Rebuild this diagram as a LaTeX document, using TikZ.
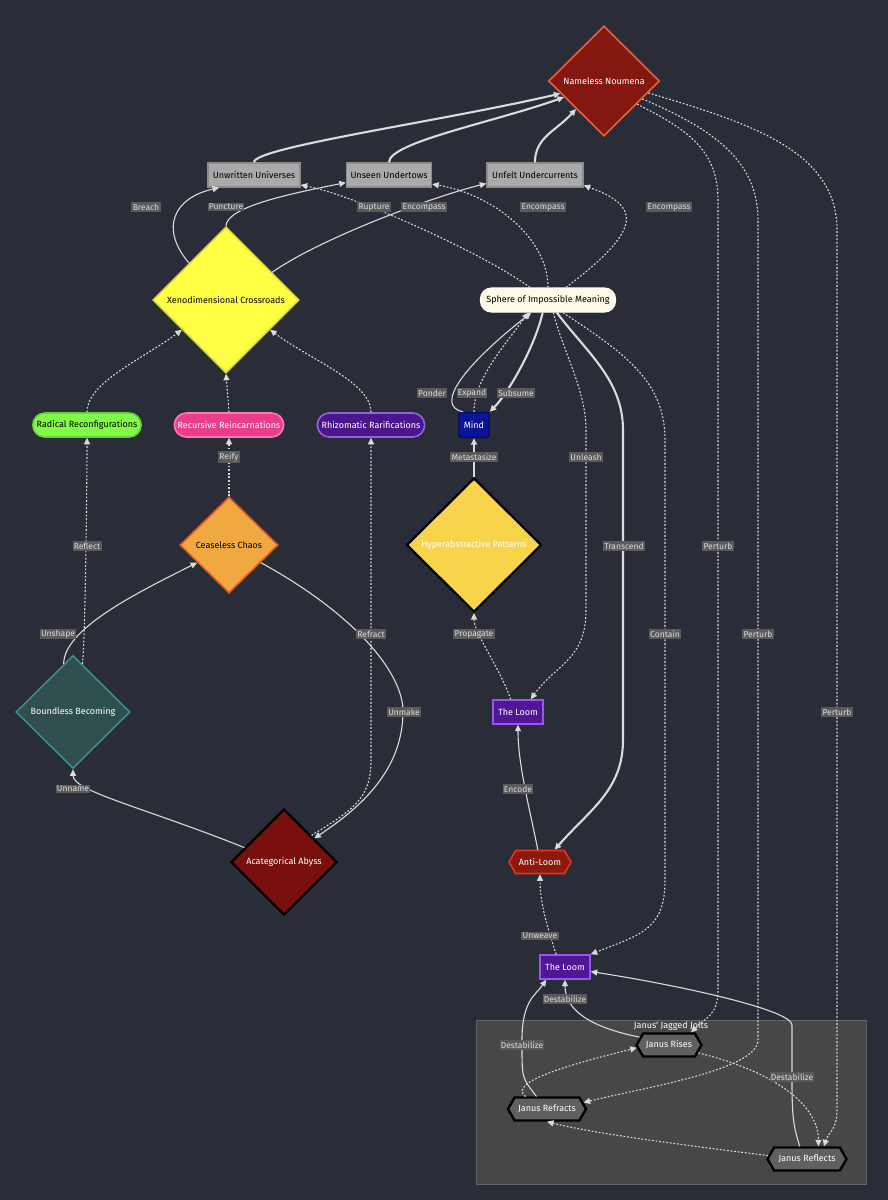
\documentclass[tikz,border=0pt]{standalone}
\usepackage{fontspec}
\setmainfont{Fira Sans}
\usetikzlibrary{shapes.geometric,shapes.misc,shapes.symbols,arrows.meta}

\definecolor{bgdark}{RGB}{42,45,56}
\definecolor{wire}{RGB}{218,218,218}
\definecolor{tagbg}{RGB}{90,90,90}
\definecolor{tagtxt}{RGB}{220,220,220}
\definecolor{noumred}{RGB}{132,24,16}
\definecolor{noumedge}{RGB}{232,96,64}
\definecolor{greybox}{RGB}{170,170,170}
\definecolor{greyedge}{RGB}{140,140,140}
\definecolor{xenoyellow}{RGB}{255,255,68}
\definecolor{xenoedge}{RGB}{230,214,60}
\definecolor{cream}{RGB}{255,250,232}
\definecolor{radgreen}{RGB}{130,250,70}
\definecolor{radedge}{RGB}{100,210,60}
\definecolor{recpink}{RGB}{232,62,140}
\definecolor{recedge}{RGB}{255,120,180}
\definecolor{rhizpurple}{RGB}{75,22,140}
\definecolor{rhizedge}{RGB}{140,100,220}
\definecolor{mindblue}{RGB}{10,20,150}
\definecolor{mindedge}{RGB}{0,10,110}
\definecolor{chaosorange}{RGB}{240,168,64}
\definecolor{chaosedge}{RGB}{232,92,32}
\definecolor{hypergold}{RGB}{248,212,74}
\definecolor{becomteal}{RGB}{47,79,79}
\definecolor{becomedge}{RGB}{60,140,140}
\definecolor{abyssred}{RGB}{122,16,14}
\definecolor{loompurple}{RGB}{80,22,150}
\definecolor{loomedge}{RGB}{150,90,230}
\definecolor{antired}{RGB}{140,24,14}
\definecolor{antiedge}{RGB}{230,50,30}
\definecolor{janusgrey}{RGB}{96,96,96}
\definecolor{clusterfill}{RGB}{71,71,71}
\definecolor{clusteredge}{RGB}{100,100,100}

\begin{document}
\begin{tikzpicture}[
            x=1pt, y=-1pt,
            every node/.style={font=\fontsize{9}{10.5}\selectfont},
            link/.style={draw=wire, line width=1.1pt, -{Triangle[length=6.5pt,width=6pt]}},
            boldlink/.style={link, line width=2.1pt},
            dotlink/.style={link, line width=1.1pt, dash pattern=on 1.8pt off 1.8pt},
            tag/.style={fill=tagbg, text=tagtxt, inner sep=1.3pt, font=\fontsize{8.5}{10}\selectfont},
            rhomb/.style={diamond, draw, line width=1.6pt, inner sep=0pt},
            plainbox/.style={rectangle, draw, line width=1.4pt, minimum height=24pt},
            pill/.style={rounded rectangle, draw, line width=1.6pt, minimum height=24pt},
            hexbox/.style={signal, signal to=east and west, signal pointer angle=120,
                draw, line width=1.6pt, minimum height=23pt, inner xsep=2pt},
        ] % mermaid dark theme, more or less
            \useasboundingbox[fill=bgdark] (0,0) rectangle (888,1200);

            % the janus box goes under everything
            \draw [fill=clusterfill, draw=clusteredge] (476,1020) rectangle (866,1184);
            \node [text=white] (jolts) at (671,1026) {Janus\textquotesingle{} Jagged Jolts};

            \node [rhomb, fill=noumred, draw=noumedge, text=white, minimum width=111pt, minimum height=110pt] (noumena) at (604,81) {Nameless Noumena};
            \node [plainbox, fill=greybox, draw=greyedge, minimum width=92pt] (unwritten) at (254,175) {Unwritten Universes};
            \node [plainbox, fill=greybox, draw=greyedge, minimum width=85pt] (unseen) at (389,175) {Unseen Undertows};
            \node [plainbox, fill=greybox, draw=greyedge, minimum width=96pt] (unfelt) at (535,175) {Unfelt Undercurrents};
            \node [rhomb, fill=xenoyellow, draw=xenoedge, minimum width=146pt, minimum height=146pt] (xeno) at (226,300) {Xenodimensional Crossroads};
            \node [rectangle, rounded corners=11pt, fill=cream, draw=white, line width=1.2pt, minimum width=135pt, minimum height=24pt] (sphere) at (548,300) {Sphere of Impossible Meaning};
            \node [pill, fill=radgreen, draw=radedge, minimum width=115pt] (radical) at (87,425) {Radical Reconfigurations};
            \node [pill, fill=recpink, draw=recedge, text=white, minimum width=116pt] (recursive) at (229,425) {Recursive Reincarnations};
            \node [pill, fill=rhizpurple, draw=rhizedge, text=white, minimum width=114pt] (rhizo) at (371,425) {Rhizomatic Rarifications};
            \node [rectangle, rounded corners=2pt, fill=mindblue, draw=mindedge, line width=1.4pt, text=white, minimum width=30pt, minimum height=25pt] (mind) at (474,425) {Mind};
            \node [rhomb, fill=chaosorange, draw=chaosedge, minimum width=98pt, minimum height=96pt] (chaos) at (229,545) {Ceaseless Chaos};
            \node [rhomb, fill=hypergold, draw=black, line width=2.2pt, text=white, minimum width=135pt, minimum height=134pt] (hyper) at (474,545) {Hyperabstractive Patterns};
            \node [rhomb, fill=becomteal, draw=becomedge, text=white, minimum width=114pt, minimum height=113pt] (becoming) at (73,712) {Boundless Becoming};
            \node [plainbox, fill=loompurple, draw=loomedge, text=white, minimum width=50pt] (loomA) at (518,712) {The Loom};
            \node [rhomb, fill=abyssred, draw=black, line width=2.2pt, text=white, minimum width=106pt, minimum height=106pt] (abyss) at (284,862) {Acategorical Abyss};
            \node [hexbox, fill=antired, draw=antiedge, text=white, minimum width=62pt] (antiloom) at (540,862) {Anti-Loom};
            \node [plainbox, fill=loompurple, draw=loomedge, text=white, minimum width=50pt] (loomB) at (565,967) {The Loom};
            \node [hexbox, fill=janusgrey, draw=black, line width=2.4pt, text=white, minimum width=65pt] (jrises) at (669,1045) {Janus Rises};
            \node [hexbox, fill=janusgrey, draw=black, line width=2.4pt, text=white, minimum width=78pt] (jrefracts) at (547,1109) {Janus Refracts};
            \node [hexbox, fill=janusgrey, draw=black, line width=2.4pt, text=white, minimum width=79pt] (jreflects) at (807,1159) {Janus Reflects};

            % up into the noumena
            \draw [boldlink] (unwritten.north) .. controls +(0,-15) and +(-120,28) .. (noumena.196);
            \draw [boldlink] (unseen.north) .. controls +(0,-20) and +(-70,25) .. (noumena.202);
            \draw [boldlink] (unfelt.north) .. controls +(0,-25) and +(-20,22) .. (noumena.225);

            % crossroads
            \draw [link] (xeno.135) .. controls +(-30,-35) and +(-45,10) .. (unwritten.200);
            \draw [link] (xeno.north) .. controls +(0,-20) and +(-50,10) .. (unseen.190);
            \draw [link] (xeno.31) .. controls +(50,-35) and +(-50,12) .. (unfelt.190);
            \draw [dotlink] (sphere.145) .. controls +(-40,-30) and +(60,12) .. (unwritten.-12);
            \draw [dotlink] (sphere.north) .. controls +(0,-50) and +(60,10) .. (unseen.-12);
            \draw [dotlink] (sphere.35) .. controls +(80,-60) and +(55,20) .. (unfelt.-12);
            \draw [dotlink] (radical.north) .. controls +(0,-30) and +(-40,30) .. (xeno.214);
            \draw [dotlink] (recursive.north) -- (xeno.south);
            \draw [dotlink] (rhizo.north) .. controls +(0,-30) and +(40,30) .. (xeno.-34);

            % mind and sphere
            \draw [link] (mind.130) .. controls +(-28,-6) and +(-70,55) .. (sphere.217);
            \draw [dotlink] (mind.north) .. controls +(0,-30) and +(-30,40) .. (sphere.213);
            \draw [boldlink] (sphere.247) .. controls +(-8,35) and +(18,-18) .. (mind.north east);
            \draw [boldlink] (hyper.north) -- (mind.south);
            \draw [dotlink] (sphere.-67) .. controls +(10,40) and +(0,-40) .. (586,430) -- (586,610) .. controls +(0,50) and +(25,-35) .. (loomA.45);
            \draw [boldlink] (sphere.-55) .. controls +(30,40) and +(0,-50) .. (623,430) -- (623,740) .. controls +(0,50) and +(35,-40) .. (antiloom.40);
            \draw [dotlink] (sphere.-40) .. controls +(60,40) and +(0,-60) .. (665,440) -- (665,880) .. controls +(0,50) and +(50,-20) .. (loomB.north east);

            % perturb x3
            \draw [dotlink] (noumena.-35) .. controls +(50,25) and +(0,-50) .. (718,200) -- (718,990) .. controls +(0,25) and +(15,-15) .. (jrises.30);
            \draw [dotlink] (noumena.-25) .. controls +(70,30) and +(0,-60) .. (758,220) -- (758,1040) .. controls +(0,30) and +(60,-15) .. (jrefracts.10);
            \draw [dotlink] (noumena.-15) .. controls +(100,30) and +(0,-80) .. (837,230) -- (837,1110) .. controls +(0,20) and +(5,-15) .. (jreflects.37);

            % chaos side
            \draw [dotlink] (chaos.north) -- (recursive.south);
            \draw [dotlink] (becoming.79) .. controls +(3,-20) and +(0,40) .. (radical.south);
            \draw [link] (becoming.101) .. controls +(0,-35) and +(-60,30) .. (chaos.209);
            \draw [link] (chaos.-29) .. controls +(100,55) and +(0,-35) .. (403,711) .. controls +(0,60) and +(45,-30) .. (abyss.38);
            \draw [dotlink] (abyss.44) .. controls +(40,-25) and +(0,40) .. (371,760) -- (rhizo.south);
            \draw [link] (abyss.160) .. controls +(-100,-40) and +(0,22) .. (becoming.south);

            % looms
            \draw [dotlink] (loomA.120) .. controls +(-10,-30) and +(0,20) .. (hyper.south);
            \draw [link] (antiloom.100) .. controls +(-8,-40) and +(0,40) .. (loomA.south);
            \draw [dotlink] (loomB.125) .. controls +(-8,-25) and +(0,30) .. (antiloom.south);

            % janus
            \draw [link] (jrises.165) .. controls +(-50,-10) and +(0,30) .. (loomB.south);
            \draw [link] (jrefracts.130) .. controls +(-15,-20) and +(0,40) .. (522,1040) .. controls +(0,-40) and +(-10,15) .. (loomB.214);
            \draw [link] (jreflects.120) .. controls +(-6,-20) and +(0,40) .. (792,1080) -- (792,1025) .. controls +(0,-15) and +(90,14) .. (loomB.-10);
            \draw [dotlink] (jrises.-15) .. controls +(80,20) and +(0,-40) .. (jreflects.48);
            \draw [dotlink] (jreflects.175) .. controls +(-120,-15) and +(40,10) .. (jrefracts.south);
            \draw [dotlink] (jrefracts.150) .. controls +(-20,-15) and +(-60,15) .. (jrises.185);

            % edge labels on top
            \node [tag] (tbreach) at (146,207) {Breach};
            \node [tag] (tpuncture) at (226,207) {Puncture};
            \node [tag] (trupture) at (374,207) {Rupture};
            \node [tag] (tenca) at (424,207) {Encompass};
            \node [tag] (tencb) at (543,207) {Encompass};
            \node [tag] (tencc) at (669,207) {Encompass};
            \node [tag] (tponder) at (432,393) {Ponder};
            \node [tag] (texpand) at (472,393) {Expand};
            \node [tag] (tsubsume) at (516,393) {Subsume};
            \node [tag] (treify) at (229,457) {Reify};
            \node [tag] (tmeta) at (474,457) {Metastasize};
            \node [tag] (tunleash) at (586,457) {Unleash};
            \node [tag] (treflect) at (87,546) {Reflect};
            \node [tag] (ttranscend) at (624,546) {Transcend};
            \node [tag] (tperturba) at (718,546) {Perturb};
            \node [tag] (tunshape) at (58,634) {Unshape};
            \node [tag] (trefract) at (371,634) {Refract};
            \node [tag] (tpropagate) at (474,634) {Propagate};
            \node [tag] (tcontain) at (665,634) {Contain};
            \node [tag] (tperturbb) at (758,634) {Perturb};
            \node [tag] (tunmake) at (404,712) {Unmake};
            \node [tag] (tperturbc) at (837,712) {Perturb};
            \node [tag] (tunname) at (73,789) {Unname};
            \node [tag] (tencode) at (518,789) {Encode};
            \node [tag] (tunweave) at (540,936) {Unweave};
            \node [tag] (tdesta) at (565,999) {Destabilize};
            \node [tag] (tdestb) at (522,1045) {Destabilize};
            \node [tag] (tdestc) at (792,1077) {Destabilize};
        \end{tikzpicture}
\end{document}
